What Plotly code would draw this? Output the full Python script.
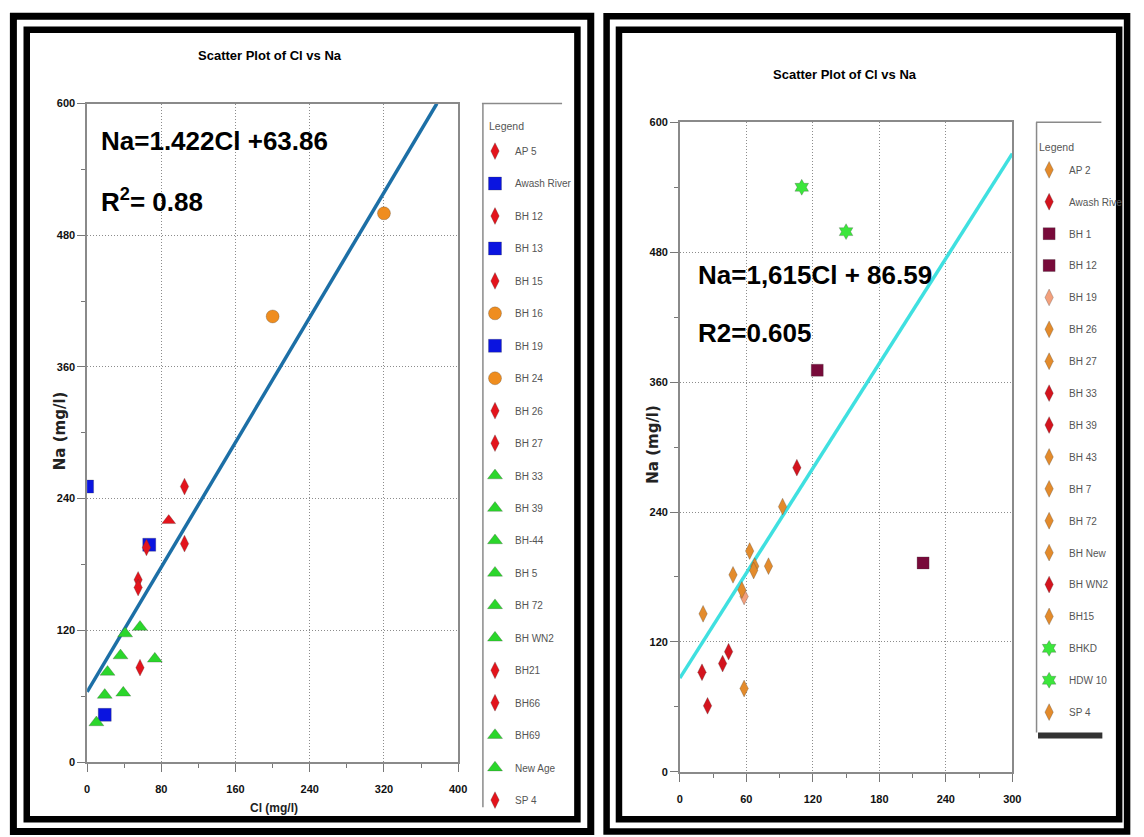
import numpy as np
import plotly.graph_objects as go

W, H = 1144, 837
NARROW = "Liberation Sans Narrow, Arial Narrow, Liberation Sans, Arial, sans-serif"
ARIAL = "Liberation Sans, Arial, sans-serif"
VERD = "DejaVu Sans, Verdana, sans-serif"

# ---------------- data: left panel ----------------
left_names = ["AP 5", "Awash River", "BH 12", "BH 13", "BH 15", "BH 16", "BH 19", "BH 24",
              "BH 26", "BH 27", "BH 33", "BH 39", "BH-44", "BH 5", "BH 72", "BH WN2",
              "BH21", "BH66", "BH69", "New Age", "SP 4"]
left_group = ["red", "blue", "red", "blue", "red", "orange", "blue", "orange",
              "red", "red", "green", "green", "green", "green", "green", "green",
              "red", "red", "green", "green", "red"]
left_cl = [[105], [0], [105], [67], [64], [200], [19], [320],
           [55], [55], [41], [57], [36], [73], [22], [19],
           [57], [None], [39], [10], [None, 88]]
left_na = [[251], [251], [199], [198], [195.5], [406], [43], [500],
           [166], [159], [117], [123], [97], [94], [82], [61],
           [86], [None], [63], [36], [None, 220]]
left_fit = {"slope": 1.422, "intercept": 63.86}
left_eq = ["Na=1.422Cl +63.86", "R<sup>2</sup>= 0.88"]

# ---------------- data: right panel ----------------
right_names = ["AP 2", "Awash Rive", "BH 1", "BH 12", "BH 19", "BH 26", "BH 27", "BH 33",
               "BH 39", "BH 43", "BH 7", "BH 72", "BH New", "BH WN2", "BH15", "BHKD",
               "HDW 10", "SP 4"]
right_group = ["orange", "red", "maroon", "maroon", "salmon", "orange", "orange", "red",
               "red", "orange", "orange", "orange", "orange", "red", "orange", "green",
               "green", "orange"]
right_cl = [[21], [105.6], [124], [219.5], [58], [92.7], [63], [20],
            [25], [67.6], [66.6], [80], [48], [38.6, 44], [56], [110],
            [150], [58]]
right_na = [[146], [281], [371], [193], [162], [245], [204], [92],
            [61], [190], [186], [190], [182], [100, 111], [168], [540],
            [499], [77]]
right_fit = {"slope": 1.615, "intercept": 86.59}
right_eq = ["Na=1,615Cl + 86.59", "R2=0.605"]

title_text = "Scatter Plot of Cl vs Na"
legend_title = "Legend"
y_title = "Na (mg/l)"
x_title = "Cl (mg/l)"

# ---------------- styles ----------------
LEFT_STYLE = {
    "red": dict(symbol="diamond-tall", color="#e3141c", size=12),
    "blue": dict(symbol="square", color="#0a14e0", size=13),
    "orange": dict(symbol="circle", color="#ef8d1f", size=13),
    "green": dict(symbol="triangle-up", color="#2bd62b", size=13),
}
RIGHT_STYLE = {
    "orange": dict(symbol="diamond-tall", color="#e38b2c", size=12),
    "red": dict(symbol="diamond-tall", color="#d3141e", size=12),
    "maroon": dict(symbol="square", color="#780a3a", size=12),
    "salmon": dict(symbol="diamond-tall", color="#f3a07c", size=12),
    "green": dict(symbol="hexagram", color="#3ce63c", size=12),
}
# one SP 4 reading on the left chart is plotted as a triangle
POINT_SYMBOL_OVERRIDE = {("L", "SP 4", 1): "triangle-up"}


def px_x(p):
    return p / W


def px_y(p):
    return 1 - p / H


fig = go.Figure()


def add_fit(fit, xmax, ymax, color, xa, ya):
    xs = np.array([0.0, min(xmax, (ymax - fit["intercept"]) / fit["slope"])])
    ys = fit["slope"] * xs + fit["intercept"]
    fig.add_trace(go.Scatter(x=xs, y=ys, mode="lines", line=dict(color=color, width=3.5),
                             showlegend=False, hoverinfo="skip", xaxis=xa, yaxis=ya))


def add_points(tag, names, groups, xs, ys, styles, xa, ya, legend):
    for n, g, x, y in zip(names, groups, xs, ys):
        st = styles[g]
        syms = [POINT_SYMBOL_OVERRIDE.get((tag, n, i), st["symbol"]) for i in range(len(x))]
        fig.add_trace(go.Scatter(
            x=x, y=y, name=n, mode="markers", legend=legend, legendgroup=tag + n,
            marker=dict(symbol=syms, color=st["color"], size=st["size"],
                        line=dict(width=0.6, color="rgba(60,60,60,0.45)")),
            xaxis=xa, yaxis=ya, hoverinfo="name+x+y"))


add_fit(left_fit, 400, 600, "#1c6fa6", "x", "y")
add_points("L", left_names, left_group, left_cl, left_na, LEFT_STYLE, "x", "y", "legend")
add_fit(right_fit, 300, 600, "#3fe0e0", "x2", "y2")
add_points("R", right_names, right_group, right_cl, right_na, RIGHT_STYLE, "x2", "y2", "legend2")


def axis(rng, major, minor, domain, anchor, standoff):
    return dict(range=rng, domain=domain, anchor=anchor, tickmode="linear", tick0=0, dtick=major,
                ticks="outside", ticklen=8, tickwidth=1, tickcolor="#777",
                ticklabelstandoff=standoff,
                showline=True, linecolor="#8a8a8a", linewidth=1.5, mirror=True,
                showgrid=True, gridcolor="#8c8c8c", gridwidth=1, griddash="1px,2px",
                zeroline=False, fixedrange=True,
                tickfont=dict(family=NARROW, size=11, color="#111", weight="bold"),
                minor=dict(dtick=minor, tick0=0, ticks="outside", ticklen=4, tickcolor="#777", showgrid=False))


LEG_FONT = dict(family=NARROW, size=10, color="#555")
layout = dict(
    width=W, height=H, margin=dict(l=0, r=0, t=0, b=0),
    paper_bgcolor="white", plot_bgcolor="white",
    xaxis=axis([0, 400], 80, 40, [px_x(85), px_x(460)], "y", 8),
    yaxis=axis([0, 600], 120, 60, [px_y(767), px_y(99)], "x", 0),
    xaxis2=axis([0, 300], 60, 30, [px_x(684), px_x(1020)], "y2", 8),
    yaxis2=axis([0, 600], 120, 60, [px_y(777), px_y(118)], "x2", 0),
    legend=dict(x=px_x(477), y=px_y(132.5), xanchor="left", yanchor="top",
                bgcolor="rgba(0,0,0,0)", borderwidth=0, tracegroupgap=13.45, font=LEG_FONT),
    legend2=dict(x=px_x(1037), y=px_y(151.5), xanchor="left", yanchor="top",
                 bgcolor="rgba(0,0,0,0)", borderwidth=0, tracegroupgap=12.9, font=LEG_FONT),
)
fig.update_layout(**layout)

# ---------------- frames ----------------
shapes = []


def rect(x0, y0, x1, y1, w, color="black"):
    shapes.append(dict(type="rect", xref="paper", yref="paper",
                       x0=px_x(x0), x1=px_x(x1), y0=px_y(y1), y1=px_y(y0),
                       line=dict(color=color, width=w), fillcolor="rgba(0,0,0,0)", layer="above"))


def line(x0, y0, x1, y1, w, color):
    shapes.append(dict(type="line", xref="paper", yref="paper",
                       x0=px_x(x0), x1=px_x(x1), y0=px_y(y0), y1=px_y(y1),
                       line=dict(color=color, width=w), layer="above"))


# left panel double frame
rect(10.5, 10.5, 594, 837.5, 7)
rect(24, 24, 580.5, 825, 6.5)
# right panel double frame
rect(610, 10.5, 1136, 837.5, 6.5)
rect(622.5, 24, 1128, 825, 6.5)
# legend box edges
line(484, 99, 565, 99, 1.5, "#8a8a8a")
line(485, 99, 485, 813, 1.5, "#8a8a8a")
line(1044, 118, 1110, 118, 1.5, "#8a8a8a")
line(1044.5, 118, 1044.5, 737, 1.5, "#8a8a8a")
line(1046, 740, 1111, 740, 6, "#333333")
fig.update_layout(shapes=shapes)

# ---------------- texts ----------------
ann = []


def text(t, x, y, size, family, color="black", weight="normal", xanchor="center", angle=0):
    ann.append(dict(text=t, x=px_x(x), y=px_y(y), xref="paper", yref="paper", showarrow=False,
                    xanchor=xanchor, yanchor="middle", textangle=angle,
                    font=dict(size=size, family=family, color=color, weight=weight)))


text(title_text, 270, 50, 13, NARROW, weight="bold")
text(title_text, 851, 70, 13, NARROW, weight="bold")
text(legend_title, 489, 122, 10.5, NARROW, color="#555", xanchor="left")
text(legend_title, 1045, 143, 10.5, NARROW, color="#555", xanchor="left")
text(left_eq[0], 97, 137, 26, ARIAL, weight="bold", xanchor="left")
text(left_eq[1], 97, 197, 26, ARIAL, weight="bold", xanchor="left")
text(right_eq[0], 700, 273, 26, ARIAL, weight="bold", xanchor="left")
text(right_eq[1], 700, 332, 26, ARIAL, weight="bold", xanchor="left")
text(y_title, 57, 431, 15, VERD, color="#222", weight="bold", angle=-90)
text(y_title, 657, 445, 15, VERD, color="#222", weight="bold", angle=-90)
text(x_title, 274, 814, 12, NARROW, color="#222", weight="bold")
fig.update_layout(annotations=ann)

fig.write_html("out.html")
